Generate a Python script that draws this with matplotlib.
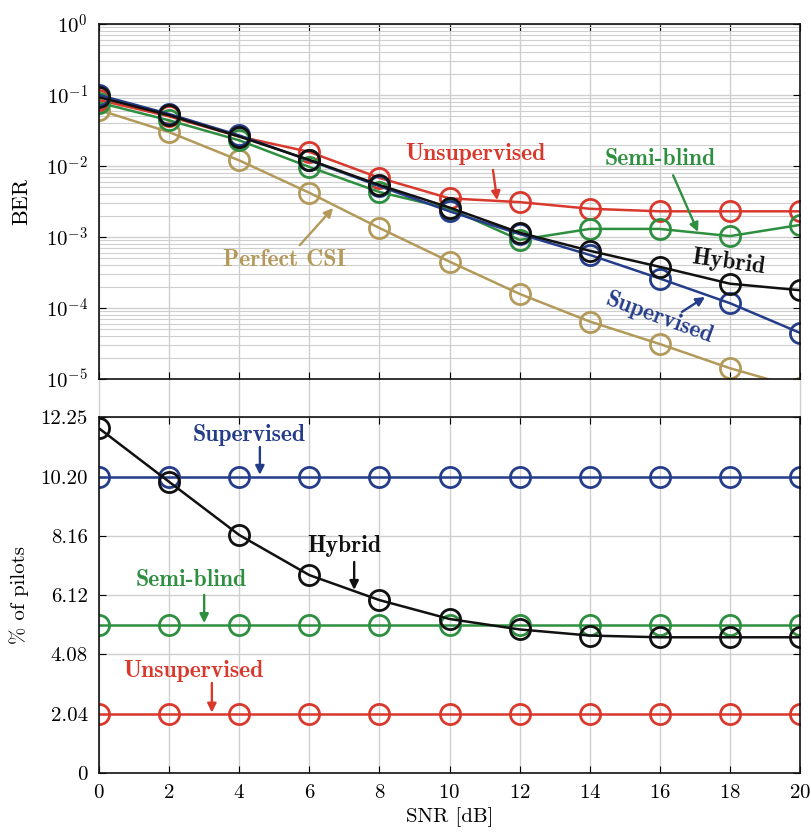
import matplotlib
matplotlib.use("Agg")
import matplotlib.pyplot as plt
import numpy as np

plt.rcParams['font.family'] = 'cmr10'
plt.rcParams['mathtext.fontset'] = 'cm'
plt.rcParams['axes.formatter.use_mathtext'] = True

# -------- data --------
snr = [0, 2, 4, 6, 8, 10, 12, 14, 16, 18, 20]

ber_unsup = [0.085, 0.050, 0.026, 0.0158, 0.0068, 0.0035, 0.0031, 0.0025, 0.0023, 0.0023, 0.0023]
ber_semi = [0.078, 0.044, 0.023, 0.0097, 0.0043, 0.0025, 0.00091, 0.0013, 0.0013, 0.00103, 0.00148]
ber_sup = [0.100, 0.054, 0.027, 0.0120, 0.0052, 0.0023, 0.0011, 0.00056, 0.00026, 0.000117, 0.0000447]
ber_hyb = [0.093, 0.052, 0.026, 0.0122, 0.0054, 0.0026, 0.00115, 0.00064, 0.00038, 0.00022, 0.000178]
ber_csi = [0.0615, 0.030, 0.012, 0.0042, 0.00134, 0.00045, 0.000158, 0.0000645, 0.0000311, 0.0000142, 0.0000074]

pil_sup = [10.20] * 11
pil_semi = [5.10] * 11
pil_unsup = [2.04] * 11
pil_hyb = [11.86, 10.02, 8.19, 6.81, 5.95, 5.30, 4.94, 4.73, 4.67, 4.67, 4.67]

pil_ticks = [0, 2.04, 4.08, 6.12, 8.16, 10.20, 12.25]
pil_ticklabels = ["0", "2.04", "4.08", "6.12", "8.16", "10.20", "12.25"]

RED = '#d9392c'
BLUE = '#243c8a'
GREEN = '#2f8f40'
GOLD = '#b39a5a'
BLACK = '#111111'
GRID = '#cfcfcf'

line_kw = dict(marker='o', markersize=14.5, markerfacecolor='none',
               markeredgewidth=2.0, linewidth=1.8)

fig = plt.figure(figsize=(8.11, 8.39), dpi=100)
W, H = 811, 839
ax1 = fig.add_axes([99 / W, 1 - 379 / H, 701 / W, 355 / H])
ax2 = fig.add_axes([99 / W, 1 - 773 / H, 701 / W, 356 / H])

# -------- top: BER --------
ax1.semilogy(snr, ber_csi, color=GOLD, **line_kw)
ax1.semilogy(snr, ber_unsup, color=RED, **line_kw)
ax1.semilogy(snr, ber_semi, color=GREEN, **line_kw)
ax1.semilogy(snr, ber_sup, color=BLUE, **line_kw)
ax1.semilogy(snr, ber_hyb, color=BLACK, **line_kw)

ax1.set_xlim(0, 20)
ax1.set_ylim(1e-5, 1)
ax1.set_xticks(range(0, 21, 2))
ax1.set_xticklabels([])
ax1.set_yticks([1e-5, 1e-4, 1e-3, 1e-2, 1e-1, 1])
ax1.set_yticklabels([r'$10^{-5}$', r'$10^{-4}$', r'$10^{-3}$',
                     r'$10^{-2}$', r'$10^{-1}$', r'$10^{0}$'])
ax1.yaxis.set_minor_locator(matplotlib.ticker.LogLocator(base=10, subs=np.arange(2, 10)))
ax1.yaxis.set_minor_formatter(matplotlib.ticker.NullFormatter())
ax1.grid(True, which='major', color=GRID, linewidth=1.0)
ax1.grid(True, which='minor', axis='y', color=GRID, linewidth=0.8)
ax1.set_axisbelow(True)
ax1.set_ylabel('BER', fontsize=16)
ax1.yaxis.set_label_coords(-0.097, 0.5)

# vertical grid continues across the gap between panels
for x in snr:
    ax1.axvline(x, ymin=-0.107, ymax=0, color=GRID, linewidth=1.0, clip_on=False, zorder=0)

bold = dict(family='cmb10', fontsize=17)
arrow = lambda c: dict(arrowstyle='-|>', color=c, lw=1.7, mutation_scale=13, shrinkA=0, shrinkB=0)

ax1.text(10.73, 0.0148, 'Unsupervised', color=RED, ha='center', va='center', **bold)
ax1.annotate('', xy=(11.36, 0.0033), xytext=(11.24, 0.0088), arrowprops=arrow(RED))
ax1.text(16.0, 0.0125, 'Semi-blind', color=GREEN, ha='center', va='center', **bold)
ax1.annotate('', xy=(17.09, 0.00118), xytext=(16.38, 0.0074), arrowprops=arrow(GREEN))
ax1.text(17.95, 0.000445, 'Hybrid', color=BLACK, ha='center', va='center', rotation=-8, **bold)
ax1.text(16.0, 0.000072, 'Supervised', color=BLUE, ha='center', va='center', rotation=-20, **bold)
ax1.annotate('', xy=(17.29, 0.000143), xytext=(16.63, 0.000088), arrowprops=arrow(BLUE))
ax1.text(5.28, 0.000474, 'Perfect CSI', color=GOLD, ha='center', va='center', **bold)
ax1.annotate('', xy=(6.68, 0.00256), xytext=(5.73, 0.00077), arrowprops=arrow(GOLD))

# -------- bottom: pilots --------
ax2.plot(snr, pil_sup, color=BLUE, **line_kw)
ax2.plot(snr, pil_semi, color=GREEN, **line_kw)
ax2.plot(snr, pil_unsup, color=RED, **line_kw)
ax2.plot(snr, pil_hyb, color=BLACK, **line_kw)

ax2.set_xlim(0, 20)
ax2.set_ylim(0, 12.25)
ax2.set_xticks(range(0, 21, 2))
ax2.set_yticks(pil_ticks)
ax2.set_yticklabels(pil_ticklabels)
ax2.grid(True, color=GRID, linewidth=1.0)
ax2.set_axisbelow(True)
ax2.set_xlabel('SNR [dB]', fontsize=15)
ax2.set_ylabel('% of pilots', fontsize=15)
ax2.yaxis.set_label_coords(-0.1, 0.5)

ax2.text(4.28, 11.63, 'Supervised', color=BLUE, ha='center', va='center', **bold)
ax2.annotate('', xy=(4.59, 10.26), xytext=(4.59, 11.22), arrowprops=arrow(BLUE))
ax2.text(6.99, 7.81, 'Hybrid', color=BLACK, ha='center', va='center', **bold)
ax2.annotate('', xy=(7.28, 6.30), xytext=(7.28, 7.26), arrowprops=arrow(BLACK))
ax2.text(2.62, 6.64, 'Semi-blind', color=GREEN, ha='center', va='center', **bold)
ax2.annotate('', xy=(3.0, 5.16), xytext=(3.0, 6.13), arrowprops=arrow(GREEN))
ax2.text(2.69, 3.51, 'Unsupervised', color=RED, ha='center', va='center', **bold)
ax2.annotate('', xy=(3.22, 2.08), xytext=(3.22, 3.10), arrowprops=arrow(RED))

for ax in (ax1, ax2):
    for s in ax.spines.values():
        s.set_linewidth(1.2)
        s.set_color('#111111')
    ax.tick_params(which='major', direction='in', top=True, right=True,
                   length=5, width=0.8, labelsize=15, pad=8)
    ax.tick_params(which='minor', length=0, left=False, right=False)

fig.savefig('out.png', dpi=100)
